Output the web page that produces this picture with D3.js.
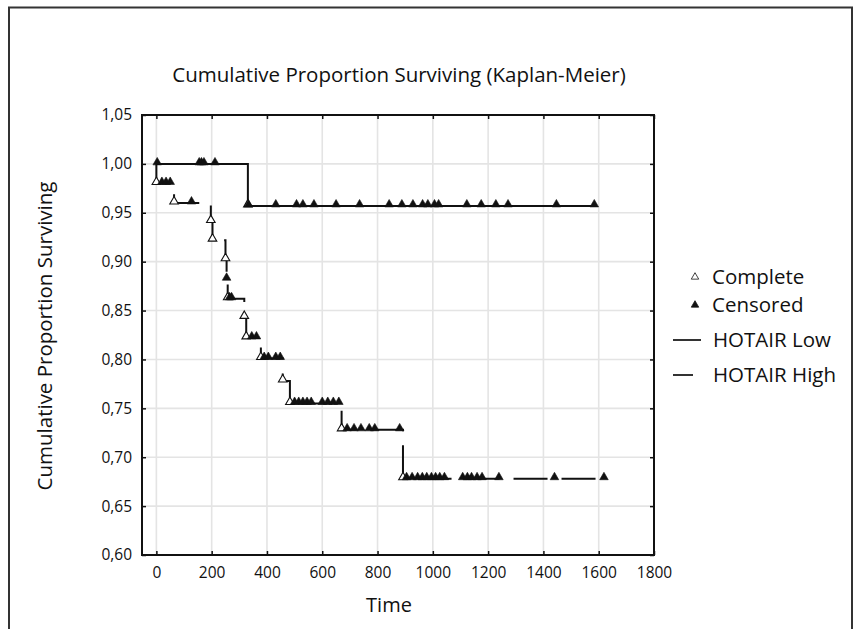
<!DOCTYPE html>
<html>
<head>
<meta charset="utf-8">
<script src="https://cdn.jsdelivr.net/npm/d3@7"></script>
<style>
  body { margin: 0; background: #fff; }
  svg { display: block; font-family: 'Open Sans', sans-serif; }
</style>
</head>
<body>
<div id="chart"></div>
<script>
// axis ticks
const xTicks = [0, 200, 400, 600, 800, 1000, 1200, 1400, 1600, 1800];
const yTicks = [0.60, 0.65, 0.70, 0.75, 0.80, 0.85, 0.90, 0.95, 1.00, 1.05];

// HOTAIR Low: step curve (time, proportion surviving)
const lowTime = [0, 331, 1593];
const lowSurv = [1.0, 0.957, 0.957];
const lowComplete = [331];
const lowCensored = [3, 155, 163, 172, 212, 333, 432, 507, 530, 570, 650, 735,
  842, 888, 928, 963, 982, 1006, 1021, 1123, 1175, 1228, 1272, 1447, 1584];

// HOTAIR High
const highTime = [0, 0, 64, 197, 203, 250, 254, 258, 318, 325, 378, 457, 483, 670, 892, 1622];
const highSurv = [1.0, 0.980, 0.960, 0.941, 0.922, 0.902, 0.882, 0.862, 0.843, 0.822, 0.801,
  0.778, 0.755, 0.728, 0.678, 0.678];
const highComplete = [0, 64, 197, 203, 250, 258, 318, 325, 378, 457, 483, 670, 892];
const highCensored = [20, 35, 50, 127, 254, 265, 272, 345, 362, 390, 405, 432, 448,
  500, 515, 530, 545, 560, 600, 620, 640, 660, 690, 715, 740, 770, 790, 880,
  905, 925, 945, 962, 978, 995, 1010, 1025, 1042, 1108, 1125, 1140, 1160, 1178,
  1239, 1440, 1619];

const width = 856, height = 629;
const svg = d3.select('#chart').append('svg')
  .attr('width', width)
  .attr('height', height);

// outer frame (no bottom edge)
svg.append('path')
  .attr('d', `M9,${height} V7.5 H852 V${height}`)
  .attr('fill', 'none')
  .attr('stroke', '#333')
  .attr('stroke-width', 2);

const plot = { left: 142, right: 654, top: 115, bottom: 555 };
const x = d3.scaleLinear().domain([-52, 1800]).range([plot.left, plot.right]);
const y = d3.scaleLinear().domain([0.60, 1.05]).range([plot.bottom, plot.top]);

// grid
const grid = svg.append('g');
grid.selectAll('.gx').data(xTicks).enter().append('line')
  .attr('x1', d => x(d)).attr('x2', d => x(d))
  .attr('y1', plot.top).attr('y2', plot.bottom)
  .attr('stroke', '#e4e4e4').attr('stroke-width', 1.6);
grid.selectAll('.gy').data(yTicks).enter().append('line')
  .attr('x1', plot.left).attr('x2', plot.right)
  .attr('y1', d => y(d)).attr('y2', d => y(d))
  .attr('stroke', '#e4e4e4').attr('stroke-width', 1.6);

// axes with inward ticks
const tickLen = 4;
const xAxis = d3.axisBottom(x).tickValues(xTicks).tickSize(-tickLen).tickPadding(12).tickFormat(d3.format('d'));
const yAxis = d3.axisLeft(y).tickValues(yTicks).tickSize(-tickLen).tickPadding(10)
  .tickFormat(d => d3.format('.2f')(d).replace('.', ','));

const gx = svg.append('g').attr('transform', `translate(0,${plot.bottom})`).call(xAxis);
const gy = svg.append('g').attr('transform', `translate(${plot.left},0)`).call(yAxis);
const gxTop = svg.append('g').attr('transform', `translate(0,${plot.top})`)
  .call(d3.axisTop(x).tickValues(xTicks).tickSize(-tickLen).tickFormat(''));
const gyRight = svg.append('g').attr('transform', `translate(${plot.right},0)`)
  .call(d3.axisRight(y).tickValues(yTicks).tickSize(-tickLen).tickFormat(''));

[gx, gy, gxTop, gyRight].forEach(g => {
  g.select('.domain').remove();
  g.selectAll('.tick line').attr('stroke', '#111').attr('stroke-width', 1.5);
  g.selectAll('.tick text').attr('fill', '#111').style('font-size', '15.5px')
    .style('font-family', "'Open Sans', sans-serif");
});

// plot border
svg.append('rect')
  .attr('x', plot.left).attr('y', plot.top)
  .attr('width', plot.right - plot.left).attr('height', plot.bottom - plot.top)
  .attr('fill', 'none').attr('stroke', '#111').attr('stroke-width', 2);

// step curves
const line = d3.line()
  .x(d => x(d[0])).y(d => y(d[1]))
  .curve(d3.curveStepAfter);

const lowPts = lowTime.map((t, i) => [t, lowSurv[i]]);
const highPts = highTime.map((t, i) => [t, highSurv[i]]);

svg.append('path').datum(lowPts)
  .attr('d', line).attr('fill', 'none')
  .attr('stroke', '#111').attr('stroke-width', 2);

svg.append('path').datum(highPts)
  .attr('d', line).attr('fill', 'none')
  .attr('stroke', '#111').attr('stroke-width', 2)
  .attr('stroke-dasharray', '34,14');

// survival at a given time
function survAt(times, survs, t) {
  let s = survs[0];
  for (let i = 0; i < times.length; i++) if (times[i] <= t) s = survs[i];
  return s;
}

const tri = d3.symbol().type(d3.symbolTriangle).size(32);

function drawMarkers(times, survs, list, filled) {
  svg.append('g').selectAll('path').data(list).enter().append('path')
    .attr('d', tri)
    .attr('transform', d => `translate(${x(d)},${y(survAt(times, survs, d)) - 1.5})`)
    .attr('fill', filled ? '#111' : '#fff')
    .attr('stroke', '#111')
    .attr('stroke-width', filled ? 0.6 : 1.1);
}

drawMarkers(lowTime, lowSurv, lowComplete, false);
drawMarkers(highTime, highSurv, highComplete, false);
drawMarkers(lowTime, lowSurv, lowCensored, true);
drawMarkers(highTime, highSurv, highCensored, true);

// title and axis labels
svg.append('text')
  .attr('x', 399).attr('y', 82)
  .attr('text-anchor', 'middle')
  .style('font-size', '20.5px')
  .attr('fill', '#111')
  .text('Cumulative Proportion Surviving (Kaplan-Meier)');

svg.append('text')
  .attr('transform', 'translate(52,336) rotate(-90)')
  .attr('text-anchor', 'middle')
  .style('font-size', '20.5px')
  .attr('fill', '#111')
  .text('Cumulative Proportion Surviving');

svg.append('text')
  .attr('x', 389).attr('y', 612)
  .attr('text-anchor', 'middle')
  .style('font-size', '20px')
  .attr('fill', '#111')
  .text('Time');

// legend
const legend = svg.append('g');
const legendItems = [
  { label: 'Complete', y: 277, kind: 'open' },
  { label: 'Censored', y: 305, kind: 'filled' },
  { label: 'HOTAIR Low', y: 340, kind: 'line', len: 28 },
  { label: 'HOTAIR High', y: 375, kind: 'line', len: 20 }
];
legendItems.forEach(it => {
  if (it.kind === 'line') {
    legend.append('line')
      .attr('x1', 673).attr('x2', 673 + it.len)
      .attr('y1', it.y).attr('y2', it.y)
      .attr('stroke', '#333').attr('stroke-width', 2);
  } else {
    legend.append('path')
      .attr('d', d3.symbol().type(d3.symbolTriangle).size(24))
      .attr('transform', `translate(695,${it.y})`)
      .attr('fill', it.kind === 'filled' ? '#111' : '#fff')
      .attr('stroke', '#111').attr('stroke-width', 0.8);
  }
  legend.append('text')
    .attr('x', it.kind === 'line' ? 713 : 712)
    .attr('y', it.y)
    .attr('dy', '0.35em')
    .style('font-size', '20.5px')
    .attr('fill', '#111')
    .text(it.label);
});
</script>
</body>
</html>
